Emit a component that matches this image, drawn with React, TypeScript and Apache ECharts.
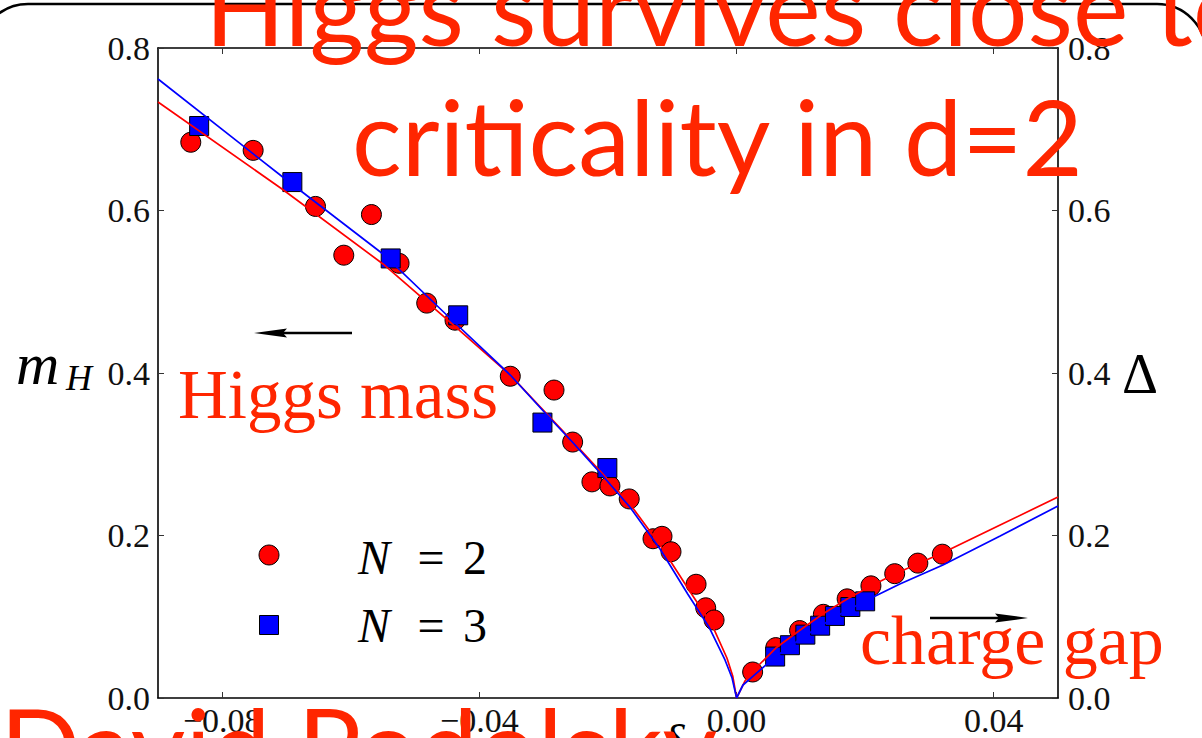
import React, { useEffect, useRef } from "react";
import * as echarts from "echarts";

// Monte Carlo points, N = 2 (red circles)
const n2Delta = [-0.0849, -0.0752, -0.0655, -0.0611, -0.0568, -0.0525, -0.0482, -0.0438, -0.0352, -0.0284, -0.0255, -0.0225, -0.0197, -0.0167, -0.013, -0.0116, -0.0102, -0.0063, -0.0048, -0.0035, 0.0025, 0.0061, 0.0098, 0.0135, 0.0172, 0.0209, 0.0246, 0.0282, 0.032];
const n2Value = [0.684, 0.674, 0.605, 0.545, 0.595, 0.535, 0.486, 0.465, 0.396, 0.379, 0.315, 0.266, 0.261, 0.245, 0.196, 0.199, 0.18, 0.14, 0.111, 0.096, 0.032, 0.062, 0.083, 0.103, 0.122, 0.138, 0.153, 0.166, 0.177];

// Monte Carlo points, N = 3 (blue squares)
const n3Delta = [-0.0836, -0.0691, -0.0538, -0.0433, -0.0302, -0.0201, 0.006, 0.0083, 0.0107, 0.013, 0.0153, 0.0177, 0.02];
const n3Value = [0.704, 0.635, 0.541, 0.471, 0.339, 0.283, 0.051, 0.065, 0.078, 0.089, 0.101, 0.112, 0.119];

// Fitted curves, Higgs mass side (delta < 0)
const fitN2MassDelta = [-0.09, -0.0706, -0.055, -0.0446, -0.0352, -0.0295, -0.0254, -0.0208, -0.0166, -0.0119, -0.0071, -0.0038, -0.0015, -0.0006, 0];
const fitN2Mass = [0.7335, 0.6258, 0.5342, 0.4628, 0.3975, 0.3495, 0.3151, 0.2757, 0.2388, 0.1883, 0.1292, 0.0898, 0.0492, 0.0271, 0];
const fitN3MassDelta = [-0.09, -0.0706, -0.055, -0.0446, -0.0352, -0.0295, -0.0254, -0.0208, -0.0166, -0.0119, -0.0076, -0.0043, -0.0018, -0.0007, 0];
const fitN3Mass = [0.7618, 0.6412, 0.5465, 0.4677, 0.3975, 0.3483, 0.3138, 0.2732, 0.2351, 0.1834, 0.128, 0.0874, 0.0468, 0.0246, 0];

// Fitted curves, charge gap side (delta > 0)
const fitN2GapDelta = [0, 0.0013, 0.0024, 0.0061, 0.0099, 0.0134, 0.0172, 0.0209, 0.0246, 0.032, 0.041, 0.05];
const fitN2Gap = [0, 0.0209, 0.032, 0.0615, 0.0837, 0.1034, 0.1218, 0.1378, 0.1526, 0.1785, 0.2129, 0.2474];
const fitN3GapDelta = [0, 0.001, 0.0024, 0.006, 0.0106, 0.0153, 0.02, 0.0254, 0.0321, 0.041, 0.05];
const fitN3Gap = [0, 0.016, 0.0258, 0.0505, 0.0763, 0.0997, 0.1194, 0.1403, 0.1637, 0.1994, 0.2363];

const xTicks = [-0.08, -0.04, 0, 0.04];
const yTicks = [0, 0.2, 0.4, 0.6, 0.8];

const RED = "#ff2600";
const SANS = "Lato, 'Noto Sans', sans-serif";
const SERIF = "'Liberation Serif', 'DejaVu Serif', serif";

const pairs = (xs: number[], ys: number[]) => xs.map((x, i) => [x, ys[i]]);
const fmtX = (v: number) => {
  const s = Math.abs(v).toFixed(2);
  return v < -1e-9 ? "\u2212" + s : s;
};
const fmtY = (v: number) => v.toFixed(1);

const tickStyle = { show: true, inside: true, length: 6, lineStyle: { color: "#333", width: 1 } };
const axisLineStyle = { show: true, onZero: false, lineStyle: { color: "#000", width: 1.6 } };
const labelFont = { fontFamily: SERIF, fontSize: 34, color: "#111" };

function fitLine(data: number[][], color: string, z: number) {
  return {
    type: "line",
    data,
    showSymbol: false,
    symbol: "none",
    smooth: false,
    lineStyle: { color, width: 1.7 },
    z,
    silent: true,
  };
}

function arrow(x1: number, x2: number, tip: number, y: number) {
  const dir = tip > x1 ? 1 : -1;
  const back = tip - dir * 33;
  return [
    { type: "line", shape: { x1, y1: y, x2, y2: y }, style: { stroke: "#000", lineWidth: 2.6 }, z: 50 },
    {
      type: "polygon",
      shape: { points: [[tip, y], [back, y - 4.6], [back + dir * 4, y], [back, y + 4.6]] },
      style: { fill: "#000" },
      z: 50,
    },
  ];
}

export default function App() {
  const ref = useRef<HTMLDivElement>(null);

  useEffect(() => {
    if (!ref.current) return;
    const chart = echarts.init(ref.current, undefined, { renderer: "svg" });

    const option = {
      animation: false,
      backgroundColor: "#fff",
      grid: { left: 158, top: 48, width: 900, height: 650, containLabel: false },
      xAxis: [
        {
          type: "value",
          min: -0.09,
          max: 0.05,
          position: "bottom",
          axisLine: axisLineStyle,
          axisTick: { ...tickStyle, customValues: xTicks },
          axisLabel: { ...labelFont, margin: 5, customValues: xTicks, formatter: fmtX },
          splitLine: { show: false },
        },
        {
          type: "value",
          min: -0.09,
          max: 0.05,
          position: "top",
          axisLine: axisLineStyle,
          axisTick: { ...tickStyle, customValues: xTicks },
          axisLabel: { show: false },
          splitLine: { show: false },
        },
      ],
      yAxis: [
        {
          type: "value",
          min: 0,
          max: 0.8,
          interval: 0.2,
          position: "left",
          axisLine: axisLineStyle,
          axisTick: { ...tickStyle, customValues: yTicks },
          axisLabel: { ...labelFont, margin: 8, formatter: fmtY },
          splitLine: { show: false },
        },
        {
          type: "value",
          min: 0,
          max: 0.8,
          interval: 0.2,
          position: "right",
          axisLine: axisLineStyle,
          axisTick: { ...tickStyle, customValues: yTicks },
          axisLabel: { ...labelFont, margin: 10, formatter: fmtY },
          splitLine: { show: false },
        },
      ],
      series: [
        {
          name: "N = 2",
          type: "scatter",
          data: pairs(n2Delta, n2Value),
          symbol: "circle",
          symbolSize: 20,
          itemStyle: { color: "#ff0000", borderColor: "#000", borderWidth: 1, opacity: 1 },
          z: 2,
        },
        {
          name: "N = 3",
          type: "scatter",
          data: pairs(n3Delta, n3Value),
          symbol: "rect",
          symbolSize: 19,
          itemStyle: { color: "#0000ff", borderColor: "#000", borderWidth: 1, opacity: 1 },
          z: 3,
        },
        fitLine(pairs(fitN2MassDelta, fitN2Mass), "#ff0000", 4),
        fitLine(pairs(fitN2GapDelta, fitN2Gap), "#ff0000", 4),
        fitLine(pairs(fitN3MassDelta, fitN3Mass), "#0000ff", 5),
        fitLine(pairs(fitN3GapDelta, fitN3Gap), "#0000ff", 5),
      ],
      graphic: [
        // slide frame
        {
          type: "rect",
          shape: { x: -21, y: 4, width: 1227, height: 900, r: 49 },
          style: { fill: "none", stroke: "#000", lineWidth: 2.6 },
          z: 1,
          silent: true,
        },
        // slide headline
        {
          type: "text",
          x: 205,
          y: 5,
          style: { text: "Higgs survives close to", font: `105px ${SANS}`, fill: RED, align: "left", verticalAlign: "middle" },
          z: 60,
        },
        {
          type: "text",
          x: 352,
          y: 135,
          style: { text: "criticality in d=2", font: `104px ${SANS}`, fill: RED, align: "left", verticalAlign: "middle" },
          z: 60,
        },
        {
          type: "text",
          x: 0,
          y: 745,
          style: { text: "David Podolsky", font: `106px ${SANS}`, fill: RED, align: "left", verticalAlign: "middle" },
          z: 60,
        },
        // annotations
        {
          type: "text",
          x: 178,
          y: 395,
          style: { text: "Higgs mass", font: `69px ${SERIF}`, fill: RED, align: "left", verticalAlign: "middle" },
          z: 60,
        },
        {
          type: "text",
          x: 860,
          y: 640,
          style: { text: "charge gap", font: `70px ${SERIF}`, fill: RED, align: "left", verticalAlign: "middle" },
          z: 60,
        },
        ...arrow(352, 270, 254, 333),
        ...arrow(930, 1000, 1028, 618),
        // legend
        {
          type: "circle",
          shape: { cx: 269, cy: 555, r: 10 },
          style: { fill: "#ff0000", stroke: "#000", lineWidth: 1 },
          z: 50,
        },
        {
          type: "rect",
          shape: { x: 259.5, y: 615.5, width: 19, height: 19 },
          style: { fill: "#0000ff", stroke: "#000", lineWidth: 1 },
          z: 50,
        },
        { type: "text", x: 358, y: 557, style: { text: "N", font: `italic 48px ${SERIF}`, fill: "#000", verticalAlign: "middle" }, z: 50 },
        { type: "text", x: 431, y: 557, style: { text: "=", font: `48px ${SERIF}`, fill: "#000", align: "center", verticalAlign: "middle" }, z: 50 },
        { type: "text", x: 475, y: 557, style: { text: "2", font: `48px ${SERIF}`, fill: "#000", align: "center", verticalAlign: "middle" }, z: 50 },
        { type: "text", x: 358, y: 625, style: { text: "N", font: `italic 48px ${SERIF}`, fill: "#000", verticalAlign: "middle" }, z: 50 },
        { type: "text", x: 431, y: 625, style: { text: "=", font: `48px ${SERIF}`, fill: "#000", align: "center", verticalAlign: "middle" }, z: 50 },
        { type: "text", x: 475, y: 625, style: { text: "3", font: `48px ${SERIF}`, fill: "#000", align: "center", verticalAlign: "middle" }, z: 50 },
        // axis names
        { type: "text", x: 16, y: 364, style: { text: "m", font: `italic 60px ${SERIF}`, fill: "#000", verticalAlign: "middle" }, z: 50 },
        { type: "text", x: 66, y: 378, style: { text: "H", font: `italic 36px ${SERIF}`, fill: "#000", verticalAlign: "middle" }, z: 50 },
        { type: "text", x: 1122, y: 374, style: { text: "\u0394", font: `56px ${SERIF}`, fill: "#000", verticalAlign: "middle" }, z: 50 },
        { type: "text", x: 662, y: 741, style: { text: "\u03b4", font: `italic 48px ${SERIF}`, fill: "#000", verticalAlign: "middle" }, z: 50 },
      ],
    };

    chart.setOption(option as any);
    return () => chart.dispose();
  }, []);

  return <div ref={ref} style={{ position: "absolute", left: 0, top: 0, width: 1202, height: 738 }} />;
}
